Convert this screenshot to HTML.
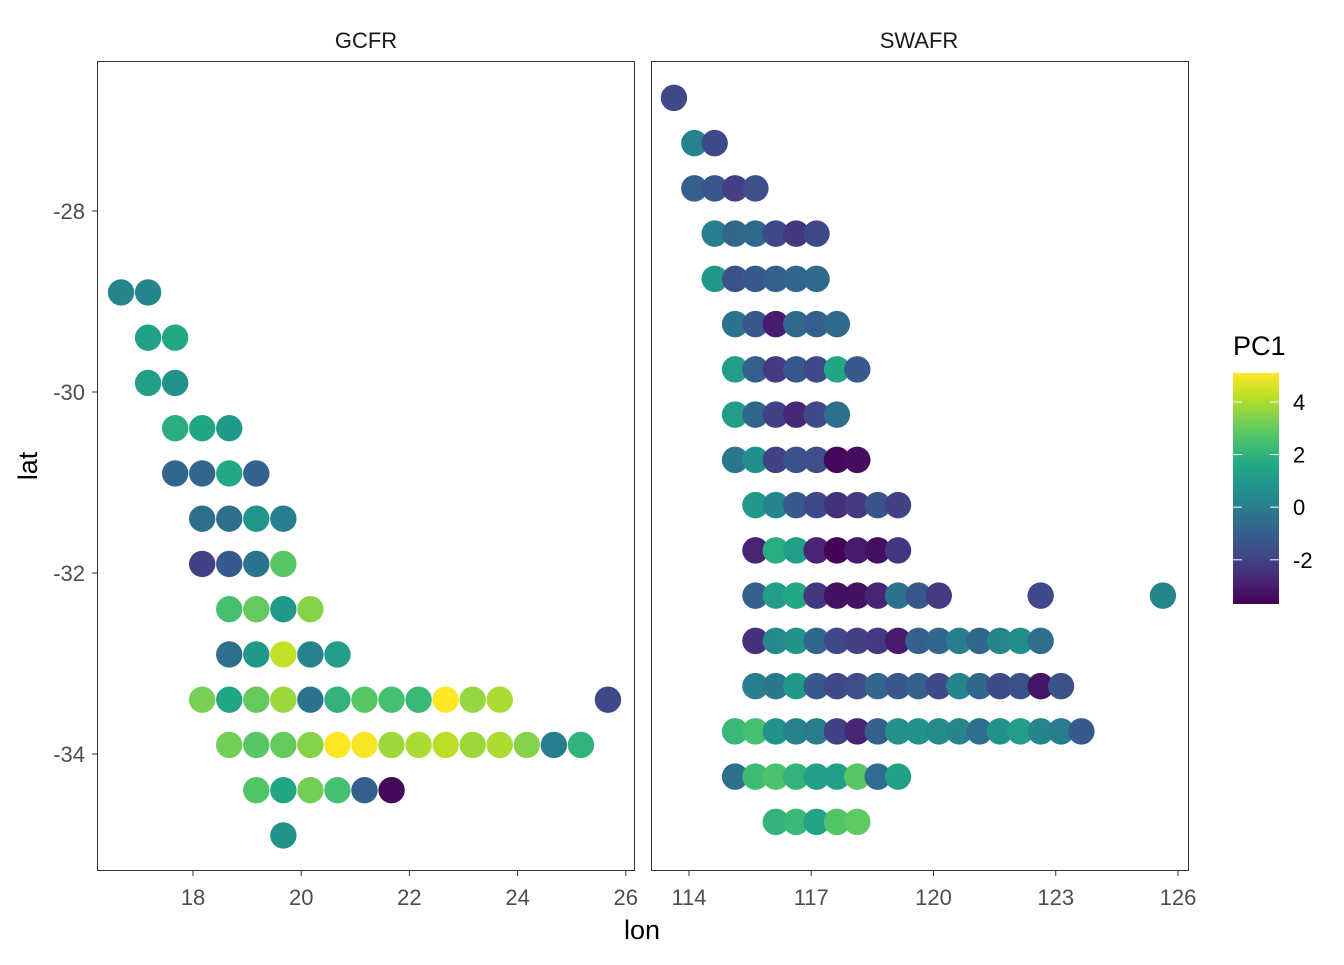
<!DOCTYPE html>
<html><head><meta charset="utf-8"><style>
body{margin:0;background:#fff;}
svg text{font-family:"Liberation Sans",sans-serif;}
</style></head><body>
<svg id="chart" width="1344" height="960" xmlns="http://www.w3.org/2000/svg">
<defs><linearGradient id="vg" x1="0" y1="1" x2="0" y2="0">
<stop offset="0" stop-color="#440154"/><stop offset="0.1" stop-color="#482475"/><stop offset="0.2" stop-color="#414487"/><stop offset="0.3" stop-color="#355f8d"/><stop offset="0.4" stop-color="#2a788e"/><stop offset="0.5" stop-color="#21918c"/><stop offset="0.6" stop-color="#22a884"/><stop offset="0.7" stop-color="#43bf71"/><stop offset="0.8" stop-color="#7ad151"/><stop offset="0.9" stop-color="#bddf26"/><stop offset="1" stop-color="#fde725"/>
</linearGradient></defs>
<rect x="97.5" y="61.5" width="537" height="809" fill="#fff" stroke="#333" stroke-width="1"/>
<rect x="651.5" y="61.5" width="537" height="809" fill="#fff" stroke="#333" stroke-width="1"/>
<text x="366" y="48" font-size="22" text-anchor="middle" fill="#1a1a1a">GCFR</text>
<text x="919" y="48" font-size="22" text-anchor="middle" fill="#1a1a1a">SWAFR</text>
<g id="pts"></g>
<g id="axes"></g>
<text x="642" y="939" font-size="27" text-anchor="middle" fill="#000">lon</text>
<text transform="translate(37,466) rotate(-90)" font-size="27" text-anchor="middle" fill="#000">lat</text>
<text x="1233" y="355" font-size="27" fill="#000">PC1</text>
<rect x="1233" y="373" width="46" height="231" fill="url(#vg)"/>
<g id="legend"></g>
</svg>
<script>
const gcfrRowLat=[-28.9,-29.4,-29.9,-30.4,-30.9,-31.4,-31.9,-32.4,-32.9,-33.4,-33.9,-34.4,-34.9];
const gcfrRowIdx=[[0,1],[1,2],[1,2],[2,3,4],[2,3,4,5],[3,4,5,6],[3,4,5,6],[4,5,6,7],[4,5,6,7,8],[3,4,5,6,7,8,9,10,11,12,13,14,18],[4,5,6,7,8,9,10,11,12,13,14,15,16,17],[5,6,7,8,9,10],[6]];
const gcfrRowPC1=[[0.3,0.3],[1.3,1.6],[1.3,0.8],[1.8,1.5,1.0],[-0.8,-0.8,1.6,-0.9],[-0.5,-0.5,0.9,0.0],[-2.0,-1.2,-0.3,2.8],[2.5,3.0,1.0,3.5],[-0.5,1.0,4.3,0.2,1.2],[3.3,1.5,3.0,3.8,-0.3,2.0,2.8,2.5,2.2,5.2,3.7,4.0,-1.8],[3.2,2.8,3.0,3.5,5.3,5.0,3.8,4.0,4.2,3.8,4.0,3.5,0.0,2.0],[2.7,1.5,3.2,2.5,-1.0,-3.5],[0.8]];
const gcfrLon0=16.67;
const swafrRowLat=[-26.75,-27.25,-27.75,-28.25,-28.75,-29.25,-29.75,-30.25,-30.75,-31.25,-31.75,-32.25,-32.75,-33.25,-33.75,-34.25,-34.75];
const swafrRowIdx=[[0],[1,2],[1,2,3,4],[2,3,4,5,6,7],[2,3,4,5,6,7],[3,4,5,6,7,8],[3,4,5,6,7,8,9],[3,4,5,6,7,8],[3,4,5,6,7,8,9],[4,5,6,7,8,9,10,11],[4,5,6,7,8,9,10,11],[4,5,6,7,8,9,10,11,12,13,18,24],[4,5,6,7,8,9,10,11,12,13,14,15,16,17,18],[4,5,6,7,8,9,10,11,12,13,14,15,16,17,18,19],[3,4,5,6,7,8,9,10,11,12,13,14,15,16,17,18,19,20],[3,4,5,6,7,8,9,10,11],[5,6,7,8,9]];
const swafrRowPC1=[[-1.8],[0.2,-1.8],[-1.0,-1.3,-2.0,-1.6],[0.0,-0.8,-0.7,-1.8,-2.3,-1.8],[1.0,-1.5,-1.2,-1.0,-0.8,-0.7],[-0.3,-1.3,-3.0,-0.7,-1.0,-0.7],[1.2,-1.0,-2.2,-1.3,-1.8,1.5,-1.2],[1.2,-0.8,-2.0,-2.7,-1.8,-0.5],[-0.2,0.7,-2.0,-1.5,-1.6,-3.5,-3.4],[1.0,0.3,-1.2,-1.8,-2.5,-2.2,-1.5,-2.0],[-2.8,1.8,1.2,-2.8,-3.6,-3.0,-3.3,-2.3],[-1.0,1.2,1.6,-2.3,-3.3,-3.3,-2.8,-0.3,-1.3,-2.2,-1.8,0.3],[-2.5,0.4,0.8,-0.8,-1.8,-2.0,-2.2,-3.0,-1.0,-0.8,0.0,-0.8,0.3,0.6,-0.5],[0.0,-0.2,1.0,-1.2,-1.8,-1.6,-0.8,-1.3,-1.0,-1.8,0.3,-0.8,-1.8,-1.5,-3.2,-1.5],[2.2,2.5,0.8,0.2,0.0,-2.0,-2.8,-1.0,0.8,0.8,0.5,0.3,-0.5,0.8,1.2,0.3,0.0,-1.2],[-0.5,2.3,2.6,2.0,1.3,1.2,2.8,-0.6,1.3],[2.0,2.2,1.4,2.7,2.9]];
const swafrLon0=113.63;
const gcfrTicks=[18,20,22,24,26];
const swafrTicks=[114,117,120,123,126];
const latTicks=[-28,-30,-32,-34];
const legendTicks=[4,2,0,-2];

const xG=l=>193+(l-18)*54.1;
const xS=l=>689+(l-114)*40.75;
const yL=l=>211+(-28-l)*90.5;
const cMin=-3.68,cMax=5.1;
const yC=v=>604-(v-cMin)/(cMax-cMin)*231;
const vir=["#440154","#482475","#414487","#355f8d","#2a788e","#21918c","#22a884","#43bf71","#7ad151","#bddf26","#fde725"];
const vpos=[0,0.1,0.2,0.3,0.4,0.5,0.6,0.7,0.8,0.9,1];
function h2r(h){return [1,3,5].map(i=>parseInt(h.substr(i,2),16));}
function col(v){let t=Math.max(0,Math.min(1,(v-cMin)/(cMax-cMin)));
 for(let i=1;i<vpos.length;i++){if(t<=vpos[i]){const f=(t-vpos[i-1])/(vpos[i]-vpos[i-1]);const a=h2r(vir[i-1]),b=h2r(vir[i]);return 'rgb('+a.map((x,k)=>Math.round(x+(b[k]-x)*f)).join(',')+')';}}
 return vir[vir.length-1];}
const NS="http://www.w3.org/2000/svg";
const pts=document.getElementById('pts'),ax=document.getElementById('axes'),lg=document.getElementById('legend');
function mk(p,tag,attrs){const e=document.createElementNS(NS,tag);for(const k in attrs)e.setAttribute(k,attrs[k]);p.appendChild(e);return e;}
function drawPanel(rowLat,rowIdx,rowPC,lon0,xf,name){
 rowLat.forEach((lat,r)=>{rowIdx[r].forEach((ix,j)=>{
  const c=mk(pts,'circle',{cx:xf(lon0+0.5*ix),cy:yL(lat),r:13.2,fill:col(rowPC[r][j])});
  
  
 });});
}
drawPanel(gcfrRowLat,gcfrRowIdx,gcfrRowPC1,gcfrLon0,xG,'gcfr');
drawPanel(swafrRowLat,swafrRowIdx,swafrRowPC1,swafrLon0,xS,'swafr');
function xt(ticks,xf){ticks.forEach(t=>{const x=xf(t);
 mk(ax,'line',{x1:x,x2:x,y1:871,y2:876,stroke:'#333'});
 const tx=mk(ax,'text',{x:x,y:905,'font-size':22,'text-anchor':'middle',fill:'#4d4d4d'});tx.textContent=t;
 
 });}
xt(gcfrTicks,xG);xt(swafrTicks,xS);
latTicks.forEach(t=>{const y=yL(t);
 mk(ax,'line',{x1:92,x2:97,y1:y,y2:y,stroke:'#333'});
 const tx=mk(ax,'text',{x:85,y:y+8,'font-size':22,'text-anchor':'end',fill:'#4d4d4d'});tx.textContent=t;
 
 });
legendTicks.forEach(t=>{const y=yC(t);
 mk(lg,'line',{x1:1233,x2:1242,y1:y,y2:y,stroke:'#fff'});
 mk(lg,'line',{x1:1270,x2:1279,y1:y,y2:y,stroke:'#fff'});
 const tx=mk(lg,'text',{x:1293,y:y+8,'font-size':22,fill:'#000'});tx.textContent=t;
 
 });
</script>
</body></html>
